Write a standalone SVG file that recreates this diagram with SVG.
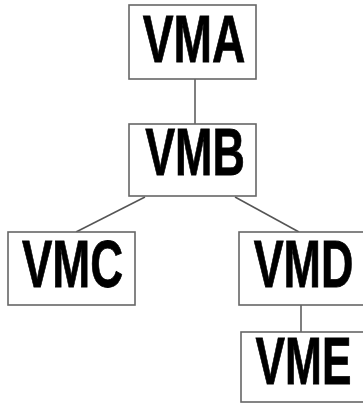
<svg xmlns="http://www.w3.org/2000/svg" width="363" height="404" viewBox="0 0 363 404">
<style>
.box{fill:#fff;stroke:#666;stroke-width:1.6}
.lbl{font-family:"Liberation Sans",Arial,sans-serif;font-weight:bold;font-size:67px;fill:#000;stroke:#000;stroke-width:0.8;text-anchor:middle}
.edge{stroke:#555;stroke-width:1.5;fill:none}
</style>
<rect width="363" height="404" fill="#fff"/>
<g id="connectors">
<line class="edge" x1="195" y1="79" x2="195" y2="124"/>
<line class="edge" x1="145" y1="197" x2="76" y2="232"/>
<line class="edge" x1="235" y1="197" x2="299" y2="232"/>
<line class="edge" x1="301" y1="305" x2="301" y2="332"/>
</g>
<g id="VMA"><rect class="box" x="129" y="5" width="127" height="74"/><text class="lbl" transform="translate(194,62) scale(0.69,1)">VMA</text></g>
<g id="VMB"><rect class="box" x="129" y="124" width="127" height="72"/><text class="lbl" transform="translate(195,175) scale(0.67,1)">VMB</text></g>
<g id="VMC"><rect class="box" x="8" y="232" width="127" height="73"/><text class="lbl" transform="translate(72.5,287) scale(0.68,1)">VMC</text></g>
<g id="VMD"><rect class="box" x="239" y="232" width="130" height="73"/><text class="lbl" transform="translate(303.5,287) scale(0.67,1)">VMD</text></g>
<g id="VME"><rect class="box" x="241" y="332" width="130" height="70"/><text class="lbl" transform="translate(303.5,384) scale(0.66,1)">VME</text></g>
</svg>
